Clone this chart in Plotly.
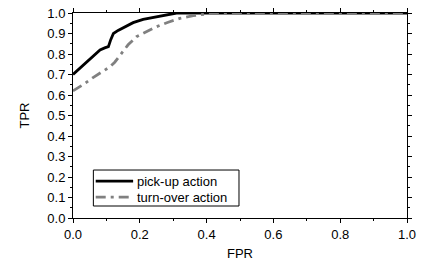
import plotly.graph_objects as go

pick_fpr = [0.0, 0.02, 0.04, 0.06, 0.081, 0.095, 0.106, 0.113, 0.121, 0.135, 0.146, 0.165, 0.18, 0.21, 0.25, 0.28, 0.30, 0.31, 0.4, 0.6, 0.8, 1.0]
pick_tpr = [0.70, 0.73, 0.76, 0.79, 0.82, 0.83, 0.836, 0.87, 0.90, 0.915, 0.925, 0.94, 0.953, 0.969, 0.982, 0.99, 0.995, 1.0, 1.0, 1.0, 1.0, 1.0]

turn_fpr = [0.0, 0.03, 0.06, 0.09, 0.111, 0.125, 0.141, 0.165, 0.19, 0.22, 0.25, 0.285, 0.32, 0.36, 0.40, 0.42, 0.6, 0.8, 1.0]
turn_tpr = [0.62, 0.65, 0.685, 0.715, 0.738, 0.76, 0.795, 0.845, 0.884, 0.91, 0.933, 0.955, 0.974, 0.987, 0.995, 1.0, 1.0, 1.0, 1.0]

series_names = ["pick-up action", "turn-over action"]

font = "Liberation Sans, Arial, sans-serif"
styles = [dict(color="black", width=2.8), dict(color="#808080", width=2.8, dash="10px,5px,3px,5px")]

fig = go.Figure()
for xs, ys, name, st in zip([pick_fpr, turn_fpr], [pick_tpr, turn_tpr], series_names, styles):
    fig.add_trace(go.Scatter(x=xs, y=ys, mode="lines", name=name, line=st, showlegend=False))

axis_common = dict(showgrid=False, zeroline=False, showline=True, linecolor="black", linewidth=1,
                   mirror="ticks", ticks="outside", ticklen=4, tickcolor="black", automargin=False,
                   tickfont=dict(family=font, size=13, color="black"))

fig.update_xaxes(range=[0, 1], tickvals=[0, 0.2, 0.4, 0.6, 0.8, 1.0],
                 ticktext=["0.0", "0.2", "0.4", "0.6", "0.8", "1.0"],
                 minor=dict(tickvals=[0.1, 0.3, 0.5, 0.7, 0.9], ticklen=2, tickcolor="black", ticks="outside"),
                 title=dict(text="FPR", font=dict(family=font, size=13, color="black"), standoff=8),
                 **axis_common)
fig.update_yaxes(range=[0, 1], tickvals=[i / 10 for i in range(11)],
                 ticktext=[f"{i/10:.1f}" for i in range(11)],
                 minor=dict(tickvals=[i / 10 + 0.05 for i in range(10)], ticklen=2, tickcolor="black", ticks="outside"),
                 title=dict(text="TPR", font=dict(family=font, size=13, color="black"), standoff=14),
                 **axis_common)

# custom legend (box, line samples, labels) in axis-domain coordinates
shapes = [dict(type="rect", xref="x domain", yref="y domain", x0=0.061, x1=0.497, y0=0.0585, y1=0.234,
               line=dict(color="black", width=1), fillcolor="white", layer="above")]
annotations = []
row_y = [0.180, 0.102]
for name, st, ry in zip(series_names, styles, row_y):
    shapes.append(dict(type="line", xref="x domain", yref="y domain", x0=0.068, x1=0.180, y0=ry, y1=ry,
                       line=dict(color=st["color"], width=st["width"], dash=st.get("dash", "solid")),
                       layer="above"))
    annotations.append(dict(text=name, xref="x domain", yref="y domain", x=0.186, y=ry,
                            xanchor="left", yanchor="middle", showarrow=False,
                            font=dict(family=font, size=13, color="black")))

fig.update_layout(
    width=423, height=266,
    margin=dict(l=73, r=16, t=13, b=48),
    plot_bgcolor="white", paper_bgcolor="white",
    showlegend=False,
    shapes=shapes, annotations=annotations,
)

fig.write_html("out.html", config={"displayModeBar": False},
               post_script="document.body.style.margin='0';document.body.style.padding='0';")
